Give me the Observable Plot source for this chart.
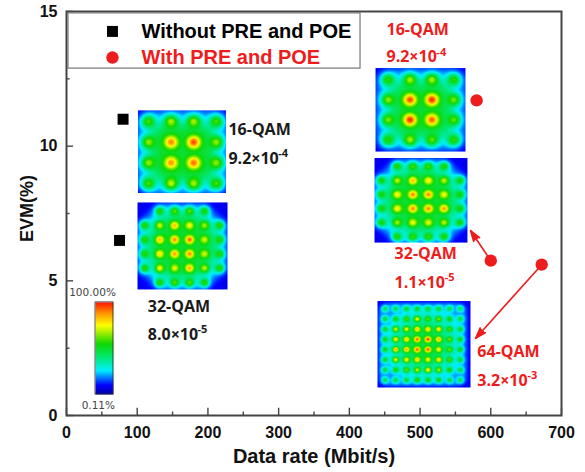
<!DOCTYPE html>
<html>
<head>
<meta charset="utf-8">
<script src="https://cdn.jsdelivr.net/npm/d3@7"></script>
<script src="https://cdn.jsdelivr.net/npm/@observablehq/plot@0.6"></script>
<style>
html,body{margin:0;padding:0;background:#fff}
svg{display:block;background:#fff}
</style>
</head>
<body>
<div id="chart"></div>
<script>
// Measured points
const withoutRate = [80, 75];
const withoutEvm = [11, 6.5];
const withRate = [580, 600, 672];
const withEvm = [11.7, 5.75, 5.6];

// Axis ticks
const xMajor = [0, 100, 200, 300, 400, 500, 600, 700];
const xMinor = [50, 150, 250, 350, 450, 550, 650];
const yMajor = [0, 5, 10, 15];
const yMinor = [2.5, 7.5, 12.5];

// Constellation peak levels read from the inset colours (0 = no symbol)
const left16 = [
  [.60, .68, .68, .60],
  [.66, .90, .96, .66],
  [.66, .88, .92, .66],
  [.60, .70, .68, .60]];
const right16 = [
  [.58, .68, .68, .58],
  [.66, .96, .99, .64],
  [.64, .99, .94, .62],
  [.58, .68, .62, .58]];
const left32 = [
  [0, .58, .62, .62, .58, 0],
  [.58, .72, .84, .76, .68, .58],
  [.58, .84, .90, .94, .72, .58],
  [.58, .80, .88, .90, .72, .58],
  [.58, .76, .74, .86, .70, .58],
  [0, .58, .62, .62, .58, 0]];
const right32 = [
  [0, .58, .60, .60, .58, 0],
  [.56, .70, .84, .78, .70, .56],
  [.56, .78, .90, .90, .76, .56],
  [.56, .78, .90, .90, .88, .56],
  [.56, .68, .76, .74, .70, .56],
  [0, .58, .60, .60, .58, 0]];
const qam64 = [
  [.45, .48, .52, .52, .50, .50, .48, .45],
  [.50, .55, .60, .76, .62, .66, .56, .50],
  [.52, .74, .76, .84, .82, .80, .62, .52],
  [.55, .82, .84, .95, .99, .86, .64, .54],
  [.55, .88, .88, .96, .97, .78, .64, .54],
  [.52, .76, .80, .84, .78, .82, .62, .52],
  [.50, .58, .64, .72, .80, .70, .58, .50],
  [.46, .50, .52, .60, .56, .56, .50, .46]];

// Colour bar stops
const colorStops = [0, .1, .26, .4, .55, .75, .88, 1];
const colorRange = ["#0000a8", "#0000ff", "#00f0ff", "#00e878", "#10d800", "#ffff00", "#ff9600", "#ff1400"];

// Inset extents in data units: x1, x2, y1, y2
const insetA = [101.1, 225.5, 8.26, 11.33];
const insetB = [100.4, 227.7, 4.68, 7.91];
const insetC = [437, 564.2, 9.8, 12.9];
const insetD = [435.6, 567, 6.42, 9.56];
const insetE = [439.8, 571.3, 1.04, 4.25];
const barBox = [41, 66.4, 0.78, 4.2];

// Annotations
const blackLabels = [
  {t: "16-QAM", x: 229, y: 10.62},
  {t: "9.2×10", x: 229, y: 9.54},
  {t: "32-QAM", x: 115, y: 4.05},
  {t: "8.0×10", x: 115, y: 3.0}];
const blackExp = [{t: "-4", x: 299.5, y: 9.72}, {t: "-5", x: 185.2, y: 3.18}];
const redLabels = [
  {t: "16-QAM", x: 452.5, y: 14.33},
  {t: "9.2×10", x: 452.5, y: 13.3},
  {t: "32-QAM", x: 464, y: 6.0},
  {t: "1.1×10", x: 464, y: 4.94},
  {t: "64-QAM", x: 581, y: 2.38},
  {t: "3.2×10", x: 581, y: 1.3}];
const redExp = [{t: "-4", x: 523, y: 13.48}, {t: "-5", x: 535, y: 5.12}, {t: "-3", x: 652, y: 1.49}];
const arrows = [
  {x1: 600, y1: 5.75, x2: 571.3, y2: 6.87},
  {x1: 672, y1: 5.6, x2: 578.4, y2: 2.86}];

const RED = "#ee1c1c";
const AXIS = "#444";
const sans = "Liberation Sans, Arial, sans-serif";
const annot = "Open Sans, sans-serif";

// Background tone from the spread of neighbouring spots
const tone = d3.scaleLinear([.3, .8, 1.2, 1.76, 2.0, 2.25, 3], [.08, .12, .17, .26, .34, .48, .52]).clamp(true);

// Heat field of one constellation inset: levels are the peaks, spread as soft spots
function field(levels, box, lo, hi, loY, hiY, glow) {
  const pts = [];
  const n = levels.length;
  levels.forEach((row, r) => row.forEach((lv, c) => {
    if (lv > 0) pts.push({u: lo + c * (hi - lo) / (n - 1), v: loY + r * (hiY - loY) / (n - 1), lv});
  }));
  const sp = (hi - lo) / (n - 1);
  const wide = 2 * (sp * .6) ** 2, narrow = 2 * (sp * .21) ** 2;
  const [x1, x2, y1, y2] = box;
  return (x, y) => {
    const u = (x - x1) / (x2 - x1), v = (y2 - y) / (y2 - y1);
    let F = 0, peak = 0;
    for (const p of pts) F += Math.exp(-((u - p.u) ** 2 + (v - p.v) ** 2) / wide);
    const bg = Math.min(tone(F), glow(Math.hypot(u - .5, v - .5)));
    for (const p of pts) {
      const d = (u - p.u) ** 2 + (v - p.v) ** 2;
      peak = Math.max(peak, (p.lv - bg) * Math.exp(-d / narrow));
    }
    return bg + peak;
  };
}
const glow16 = () => 1;
const glow32 = d3.scaleLinear([.2, .33, .45], [.5, .42, .27]).clamp(true);
const glow64 = d3.scaleLinear([.1, .3, .5], [.5, .33, .2]).clamp(true);
const inset = (levels, box, lo, hi, loY, hiY, glow) => Plot.raster({
  fill: field(levels, box, lo, hi, loY, hiY, glow),
  x1: box[0], x2: box[1], y1: box[2], y2: box[3], pixelSize: 1
});

// Arrow direction on screen, from the plot's px-per-unit
const heading = d => Math.atan2((d.x2 - d.x1) * 495 / 700, (d.y2 - d.y1) * 404 / 15) * 180 / Math.PI;

const chart = Plot.plot({
  width: 585, height: 472,
  marginLeft: 66, marginRight: 24, marginTop: 11, marginBottom: 57,
  style: {background: "#fff", overflow: "visible"},
  x: {domain: [0, 700]},
  y: {domain: [0, 15]},
  color: {type: "linear", domain: colorStops, range: colorRange, clamp: true, interpolate: "rgb"},
  marks: [
    inset(left16, insetA, .12, .89, .136, .884, glow16),
    inset(left32, insetB, .08, .91, .1, .92, glow32),
    inset(right16, insetC, .14, .87, .14, .86, glow16),
    inset(right32, insetD, .075, .917, .1, .93, glow32),
    inset(qam64, insetE, .08, .89, .09, .915, glow64),

    // Colour bar
    Plot.raster({
      fill: (x, y) => (y - barBox[2]) / (barBox[3] - barBox[2]),
      x1: barBox[0], x2: barBox[1], y1: barBox[2], y2: barBox[3], pixelSize: 1
    }),
    Plot.rect([barBox], {x1: d => d[0], x2: d => d[1], y1: d => d[2], y2: d => d[3], stroke: "#333", strokeWidth: 0.8, fill: "none"}),
    Plot.text(["100.00%"], {x: 36.8, y: 4.57, fontSize: 10.5, fill: "#444", fontFamily: "DejaVu Sans, sans-serif"}),
    Plot.text(["0.11%"], {x: 45, y: 0.37, fontSize: 10.5, fill: "#444", fontFamily: "DejaVu Sans, sans-serif"}),

    // Ticks, frame, axes
    Plot.ruleX(xMajor, {y1: 0, y2: 0.27, stroke: AXIS, strokeWidth: 1.4}),
    Plot.ruleX(xMinor, {y1: 0, y2: 0.13, stroke: AXIS, strokeWidth: 1.4}),
    Plot.ruleY(yMajor, {x1: 0, x2: 10, stroke: AXIS, strokeWidth: 1.4}),
    Plot.ruleY(yMinor, {x1: 0, x2: 5, stroke: AXIS, strokeWidth: 1.4}),
    Plot.frame({stroke: AXIS, strokeWidth: 2}),
    Plot.axisX({ticks: xMajor, tickSize: 0, tickPadding: 11, label: null, fontSize: 16, fontWeight: "bold", fontFamily: sans, fill: "#111"}),
    Plot.axisY({ticks: yMajor, tickSize: 0, tickPadding: 9, label: null, fontSize: 16, fontWeight: "bold", fontFamily: sans, fill: "#111"}),
    Plot.text(["Data rate (Mbit/s)"], {frameAnchor: "bottom", dy: 47, fontSize: 20, fontWeight: "bold", fontFamily: sans, fill: "#111"}),
    Plot.text(["EVM(%)"], {frameAnchor: "left", textAnchor: "middle", dx: -39, dy: -5, rotate: -90, fontSize: 18, fontWeight: "bold", fontFamily: sans, fill: "#111"}),

    // Legend
    Plot.rect([0], {x1: 2.8, x2: 415.8, y1: 12.88, y2: 14.93, stroke: "#777", strokeWidth: 1.2, fill: "#fff"}),
    Plot.dot([0], {x: 65, y: 14.26, symbol: "square", r: 6.2, fill: "#000"}),
    Plot.dot([0], {x: 65, y: 13.29, symbol: "circle", r: 6.2, fill: RED}),
    Plot.text(["Without PRE and POE"], {x: 106, y: 14.26, textAnchor: "start", fontSize: 20, fontWeight: "bold", fontFamily: sans, fill: "#000"}),
    Plot.text(["With PRE and POE"], {x: 106, y: 13.29, textAnchor: "start", fontSize: 20, fontWeight: "bold", fontFamily: sans, fill: RED}),

    // Arrows
    Plot.link(arrows, {x1: "x1", y1: "y1", x2: "x2", y2: "y2", stroke: RED, strokeWidth: 1.6}),
    Plot.vector(arrows, {x: "x2", y: "y2", shape: "spike", anchor: "end", length: 11, r: 3.6, rotate: heading, fill: RED, stroke: RED}),

    // Data
    Plot.dot(withoutRate.map((x, i) => [x, withoutEvm[i]]), {x: d => d[0], y: d => d[1], symbol: "square", r: 6.2, fill: "#000"}),
    Plot.dot(withRate.map((x, i) => [x, withEvm[i]]), {x: d => d[0], y: d => d[1], symbol: "circle", r: 6.2, fill: RED}),

    // Annotations
    Plot.text(blackLabels, {x: "x", y: "y", text: "t", textAnchor: "start", fontSize: 16, fontWeight: "bold", fontFamily: annot, fill: "#1a1a1a"}),
    Plot.text(blackExp, {x: "x", y: "y", text: "t", textAnchor: "start", fontSize: 11, fontWeight: "bold", fontFamily: annot, fill: "#1a1a1a"}),
    Plot.text(redLabels, {x: "x", y: "y", text: "t", textAnchor: "start", fontSize: 16, fontWeight: "bold", fontFamily: annot, fill: RED}),
    Plot.text(redExp, {x: "x", y: "y", text: "t", textAnchor: "start", fontSize: 11, fontWeight: "bold", fontFamily: annot, fill: RED})
  ]
});
document.getElementById("chart").appendChild(chart);
</script>
</body>
</html>
